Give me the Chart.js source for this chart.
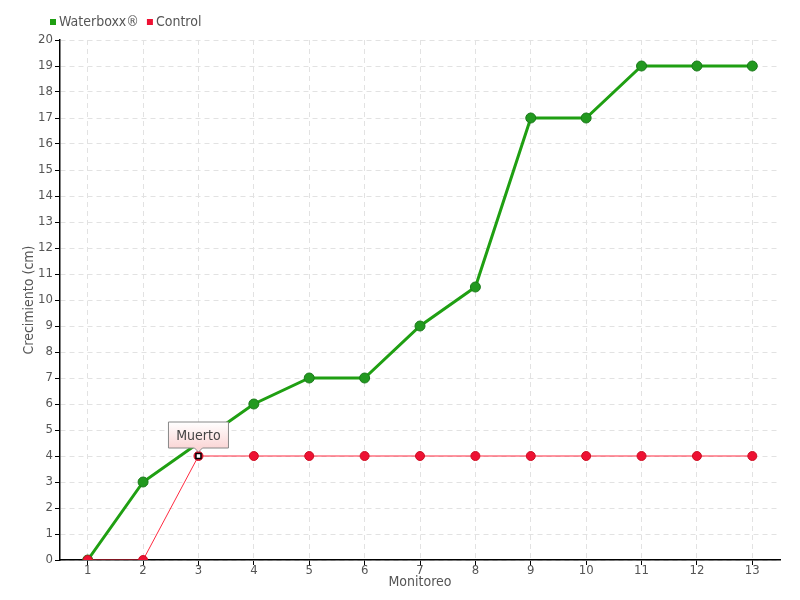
<!DOCTYPE html>
<html>
<head>
<meta charset="utf-8">
<script src="https://cdn.jsdelivr.net/npm/chart.js@4"></script>
<style>
  html, body { margin: 0; padding: 0; background: #fff; }
  #wrap { width: 800px; height: 600px; }
</style>
</head>
<body>
<div id="wrap"><canvas id="chart"></canvas></div>
<script>
// monitoreos
const monitoreos = ['1','2','3','4','5','6','7','8','9','10','11','12','13'];
// crecimiento en cm
const waterboxx = [0, 3, 4.5, 6, 7, 7, 9, 10.5, 17, 17, 19, 19, 19];
const control = [0, 0, 4, 4, 4, 4, 4, 4, 4, 4, 4, 4, 4];
const nombres = ['Waterboxx®', 'Control'];
const colores = ['#1f9f12', '#ee1133'];
// nota en el punto 3 del control
const notaIndice = 2;
const notaTexto = 'Muerto';

const FONT = '"DejaVu Sans Condensed", "Liberation Sans Narrow", sans-serif';
const GRIS = '#555';

// leyenda y nota dibujadas a mano
const extras = {
    id: 'extras',
    afterDraw(chart) {
        const c = chart.ctx;
        c.save();
        // leyenda
        c.font = '14px ' + FONT;
        c.textBaseline = 'middle';
        let x = 50;
        nombres.forEach(function(n, i) {
            c.fillStyle = colores[i];
            c.fillRect(x, 19, 6, 6);
            c.fillStyle = GRIS;
            c.fillText(n, x + 9, 22);
            x += 9 + c.measureText(n).width + 8;
        });

        // punto marcado del control
        const p = chart.getDatasetMeta(1).data[notaIndice];
        c.fillStyle = '#fff';
        c.strokeStyle = '#000';
        c.lineWidth = 1.5;
        c.fillRect(p.x - 2.5, p.y - 2.5, 5, 5);
        c.strokeRect(p.x - 2.5, p.y - 2.5, 5, 5);

        // caja de la nota
        const bw = 60, bh = 26;
        const bx = p.x - 30, by = p.y - 34;
        const g = c.createLinearGradient(0, by, 0, by + bh);
        g.addColorStop(0, '#ffffff');
        g.addColorStop(1, '#fbd6d6');
        c.beginPath();
        c.moveTo(bx, by);
        c.lineTo(bx + bw, by);
        c.lineTo(bx + bw, by + bh);
        c.lineTo(p.x + 4, by + bh);
        c.lineTo(p.x, by + bh + 4);
        c.lineTo(p.x - 4, by + bh);
        c.lineTo(bx, by + bh);
        c.closePath();
        c.fillStyle = g;
        c.fill();
        c.strokeStyle = '#888';
        c.lineWidth = 1;
        c.stroke();
        c.fillStyle = '#444';
        c.textAlign = 'center';
        c.font = '14px ' + FONT;
        c.fillText(notaTexto, p.x, by + bh / 2 + 1);
        c.restore();
    }
};

new Chart(document.getElementById('chart'), {
    type: 'line',
    data: {
        labels: monitoreos,
        datasets: [{
            label: nombres[0],
            data: waterboxx,
            borderColor: colores[0],
            borderWidth: 3,
            backgroundColor: '#22991f',
            pointBackgroundColor: '#22991f',
            pointBorderColor: '#1a7a1a',
            pointBorderWidth: 1,
            pointRadius: 5,
            tension: 0,
            order: 1
        }, {
            label: nombres[1],
            data: control,
            borderColor: '#ff2a40',
            borderWidth: 1,
            backgroundColor: colores[1],
            pointBackgroundColor: colores[1],
            pointBorderColor: '#cc1024',
            pointBorderWidth: 1,
            pointRadius: 4.5,
            tension: 0,
            order: 0
        }]
    },
    options: {
        responsive: true,
        maintainAspectRatio: false,
        animation: false,
        layout: { padding: { top: 40, right: 20, left: 0, bottom: 0 } },
        plugins: {
            legend: { display: false },
            tooltip: { enabled: false }
        },
        scales: {
            x: {
                offset: true,
                grid: {
                    color: '#e2e2e2',
                    tickColor: '#000',
                    tickLength: 5,
                    tickBorderDash: [],
                    offset: false
                },
                border: { display: true, color: '#000', width: 1.5, dash: [5, 4] },
                ticks: { color: GRIS, font: { family: FONT, size: 13 }, padding: -2 },
                title: {
                    display: true,
                    text: 'Monitoreo',
                    color: GRIS,
                    font: { family: FONT, size: 14 },
                    padding: { top: 0, bottom: 9 }
                },
                afterFit: function(s) { s.height = 40; }
            },
            y: {
                min: 0,
                max: 20,
                grid: {
                    color: '#e2e2e2',
                    tickColor: '#000',
                    tickLength: 5,
                    tickBorderDash: []
                },
                border: { display: true, color: '#000', width: 1.5, dash: [5, 4] },
                ticks: {
                    stepSize: 1,
                    color: GRIS,
                    font: { family: FONT, size: 13 },
                    padding: 2
                },
                title: {
                    display: true,
                    text: 'Crecimiento (cm)',
                    color: GRIS,
                    font: { family: FONT, size: 14 },
                    padding: { top: 21, bottom: 0 }
                },
                afterFit: function(s) { s.width = 60; }
            }
        }
    },
    plugins: [extras]
});
</script>
</body>
</html>
